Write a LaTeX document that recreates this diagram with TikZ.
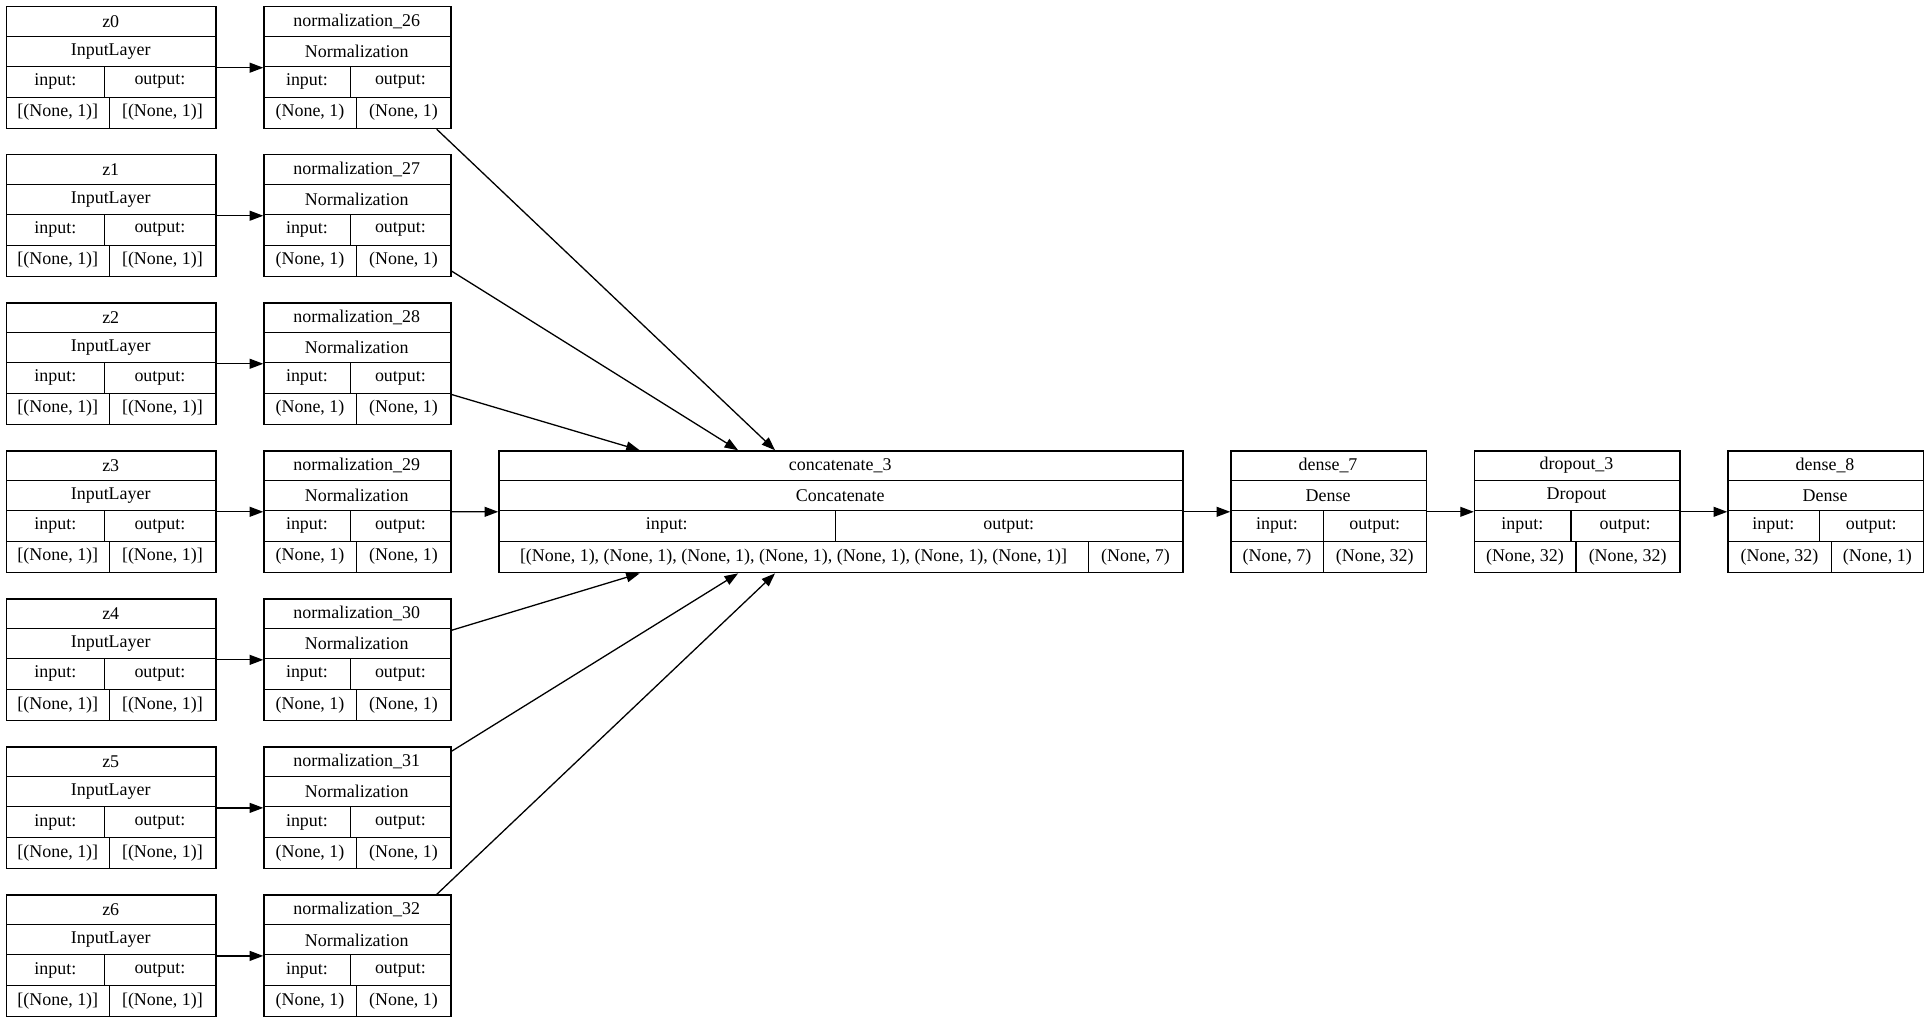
\documentclass[tikz,border=0pt]{standalone}
\usepackage{fontspec}
\setmainfont{Liberation Serif}
\usetikzlibrary{arrows.meta, calc}

\tikzset{
    layerbox/.style={
        rectangle,
        draw=black,
        line width=0.6pt,
        anchor=north west,
        inner sep=0pt
    },
    rule/.style={
        draw=black,
        line width=0.6pt
    },
    cell/.style={
        font=\fontsize{8.3}{9}\selectfont,
        inner sep=0pt
    },
    link/.style={
        draw=black,
        line width=0.6pt,
        -{Triangle[length=0.22cm, width=0.16cm]}
    }
}

% box with title and type rows
\newcommand{\layer}[6]{%
  \node[layerbox, minimum width={#4*0.02cm}, minimum height={99*0.02cm}] (#1) at (#2,#3) {};
  \draw[rule] (#2,#3+24.5) -- ++(#4,0);
  \draw[rule] (#2,#3+49) -- ++(#4,0);
  \draw[rule] (#2,#3+74) -- ++(#4,0);
  \node[cell] at ({#2+#4/2},#3+12.5) {#5};
  \node[cell] at ({#2+#4/2},#3+37) {#6};}

% input/output rows
\newcommand{\ports}[8]{%
  \draw[rule] (#5,#3+49) -- (#5,#3+74);
  \draw[rule] (#6,#3+74) -- (#6,#3+99);
  \node[cell] at ({(#2+#5)/2},#3+61.5) {input:};
  \node[cell] at ({(#5+#2+#4)/2},#3+61.5) {output:};
  \node[cell] at ({(#2+#6)/2},#3+86.5) {#7};
  \node[cell] at ({(#6+#2+#4)/2},#3+86.5) {#8};}

\begin{document}
\begin{tikzpicture}[x=0.02cm, y=-0.02cm]
\useasboundingbox (0,0) rectangle (1568,832);

% Inputs and normalizations
\foreach \i/\n in {0/26,1/27,2/28,3/29,4/30,5/31,6/32}{
  \pgfmathsetmacro{\yy}{5+120.33*\i}
  \layer{z\i}{5}{\yy}{170}{z\i}{InputLayer}
  \ports{z\i}{5}{\yy}{170}{85}{89}{[(None, 1)]}{[(None, 1)]}
  \layer{norm\i}{214}{\yy}{152}{normalization\_\n}{Normalization}
  \ports{norm\i}{214}{\yy}{152}{285}{290}{(None, 1)}{(None, 1)}
  \draw[link] (z\i.east) -- (norm\i.west);
}

% Merge
\layer{cat}{405}{366}{556}{concatenate\_3}{Concatenate}
\ports{cat}{405}{366}{556}{679}{885}{[(None, 1), (None, 1), (None, 1), (None, 1), (None, 1), (None, 1), (None, 1)]}{(None, 7)}

% Head
\layer{dense7}{1000}{366}{159}{dense\_7}{Dense}
\ports{dense7}{1000}{366}{159}{1076}{1076}{(None, 7)}{(None, 32)}
\layer{drop3}{1198}{366}{167}{dropout\_3}{Dropout}
\ports{drop3}{1198}{366}{167}{1277}{1281}{(None, 32)}{(None, 32)}
\layer{dense8}{1404}{366}{159}{dense\_8}{Dense}
\ports{dense8}{1404}{366}{159}{1479}{1489}{(None, 32)}{(None, 1)}

% Connectors
\coordinate (catA) at ($(cat.north west)+(225,0)$);
\coordinate (catB) at ($(cat.north west)+(195,0)$);
\coordinate (catC) at ($(cat.north west)+(115,0)$);
\coordinate (catD) at ($(cat.south west)+(225,0)$);
\coordinate (catE) at ($(cat.south west)+(195,0)$);
\coordinate (catF) at ($(cat.south west)+(115,0)$);
\draw[link] ($(norm0.south west)+(141,0)$) -- (catA);
\draw[link] ($(norm1.north east)+(0,95)$) -- (catB);
\draw[link] ($(norm2.north east)+(0,75)$) -- (catC);
\draw[link] (norm3.east) -- (cat.west);
\draw[link] ($(norm4.north east)+(0,26)$) -- (catF);
\draw[link] ($(norm5.north east)+(0,4)$) -- (catE);
\draw[link] ($(norm6.north west)+(141,0)$) -- (catD);
\draw[link] (cat.east) -- (dense7.west);
\draw[link] (dense7.east) -- (drop3.west);
\draw[link] (drop3.east) -- (dense8.west);

\end{tikzpicture}
\end{document}
